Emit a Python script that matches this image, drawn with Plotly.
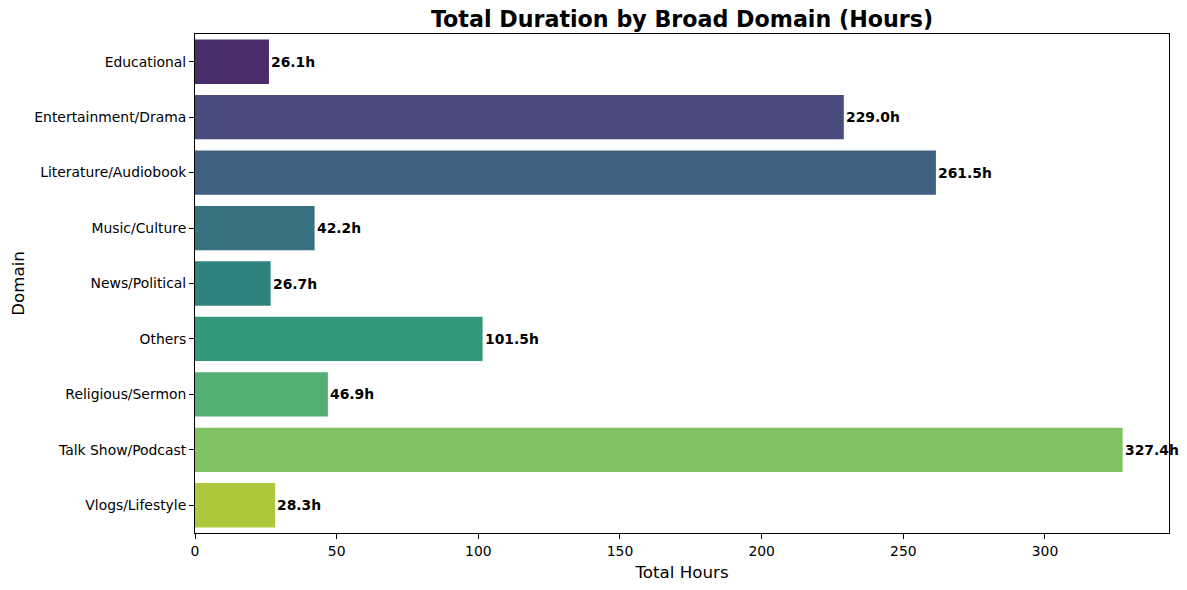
import colorsys
import plotly.graph_objects as go

domains = ["Educational", "Entertainment/Drama", "Literature/Audiobook", "Music/Culture",
           "News/Political", "Others", "Religious/Sermon", "Talk Show/Podcast", "Vlogs/Lifestyle"]
hours = [26.1, 229.0, 261.5, 42.2, 26.7, 101.5, 46.9, 327.4, 28.3]
bar_labels = ["26.1h", "229.0h", "261.5h", "42.2h", "26.7h", "101.5h", "46.9h", "327.4h", "28.3h"]

# seaborn viridis palette (9 colors) with default saturation 0.75
viridis9 = ["#482475", "#414487", "#355f8d", "#2a788e", "#21918c", "#22a884", "#44bf70", "#7ad151", "#bddf26"]


def desat(hx, prop=0.75):
    r, g, b = (int(hx[i:i + 2], 16) / 255 for i in (1, 3, 5))
    h, l, s = colorsys.rgb_to_hls(r, g, b)
    r, g, b = colorsys.hls_to_rgb(h, l, s * prop)
    return "rgb(%d,%d,%d)" % (round(r * 255), round(g * 255), round(b * 255))


colors = [desat(c) for c in viridis9]

fig = go.Figure()
fig.add_trace(go.Bar(
    x=hours, y=list(range(len(domains))), orientation="h",
    marker=dict(color=colors, line=dict(width=0)), width=0.8,
    hoverinfo="x+text", hovertext=domains,
))

for i, (v, t) in enumerate(zip(hours, bar_labels)):
    fig.add_annotation(x=v, y=i, text="<b>%s</b>" % t, showarrow=False,
                       xanchor="left", yanchor="middle", xshift=0,
                       font=dict(family="DejaVu Sans", size=13.9, color="black"))

fig.update_layout(
    width=1187, height=590,
    margin=dict(l=195, r=18, t=34, b=57),
    paper_bgcolor="white", plot_bgcolor="white",
    font=dict(family="DejaVu Sans", color="black"),
    showlegend=False,
    title=dict(text="<b>Total Duration by Broad Domain (Hours)</b>",
               x=(195 + 1169) / 2 / 1187, xanchor="center", y=1 - 19 / 590, yanchor="middle",
               font=dict(family="DejaVu Sans", size=22.2, color="black")),
    xaxis=dict(range=[0, max(hours) * 1.05], tickvals=[0, 50, 100, 150, 200, 250, 300],
               showgrid=False, zeroline=False, showline=True, linecolor="black", linewidth=1,
               mirror=True, ticks="outside", ticklen=5, tickcolor="black",
               tickfont=dict(size=13.9),
               title=dict(text="Total Hours", font=dict(size=16.7), standoff=8)),
    yaxis=dict(range=[len(domains) - 0.5, -0.5], tickvals=list(range(len(domains))),
               ticktext=domains, showgrid=False, zeroline=False, showline=True,
               linecolor="black", linewidth=1, mirror=True, ticks="outside", ticklen=5,
               tickcolor="black", tickfont=dict(size=13.9),
               title=dict(text="Domain", font=dict(size=16.7), standoff=5)),
)

fig.write_html("out.html", config={"displayModeBar": False},
               post_script="document.body.style.margin='0';document.body.style.padding='0';")
